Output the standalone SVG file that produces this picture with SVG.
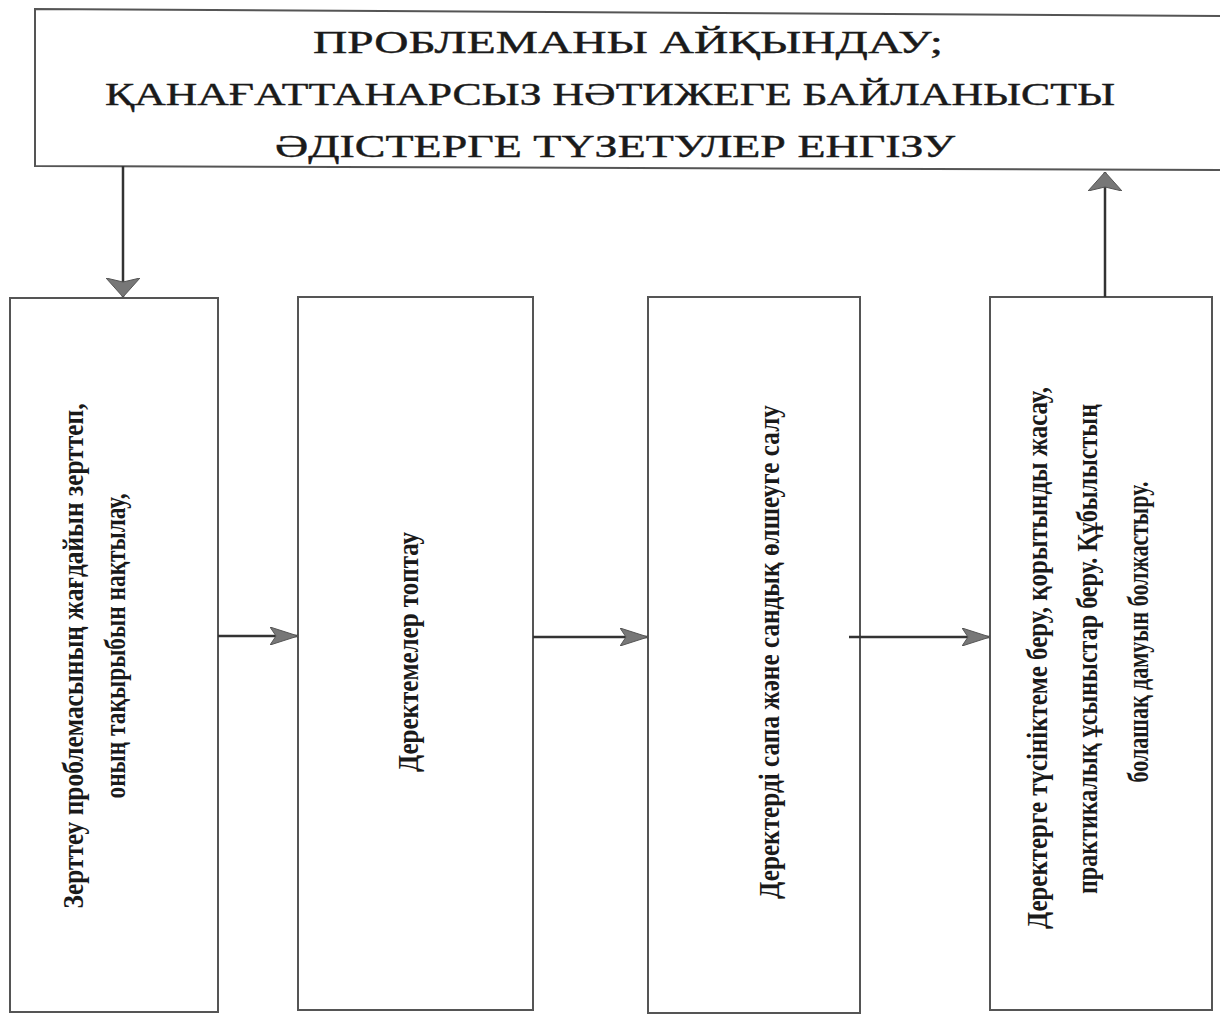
<svg xmlns="http://www.w3.org/2000/svg" width="1220" height="1017" viewBox="0 0 1220 1017">
<style>
.box{fill:#fff;stroke:#555;stroke-width:2}
.t{font-family:"Liberation Serif","Times New Roman",serif;fill:#1a1a1a}
.top{font-size:31px;stroke:#1a1a1a;stroke-width:0.4}
.v{font-size:29px;font-weight:bold}
.ln{stroke:#333;stroke-width:2.5;fill:none}
</style>
<defs>
<marker id="ah" markerUnits="userSpaceOnUse" markerWidth="30" markerHeight="18" refX="28" refY="9" orient="auto">
<path d="M0,0 L28,9 L0,18 L6,9 Z" fill="#777" stroke="#555" stroke-width="1"/>
</marker>
<marker id="av" markerUnits="userSpaceOnUse" markerWidth="20" markerHeight="34" refX="19" refY="17" orient="auto">
<path d="M0,0 L19,17 L0,34 L4,17 Z" fill="#777" stroke="#555" stroke-width="1"/>
</marker>
</defs>
<rect width="1220" height="1017" fill="#fff"/>
<g id="top">
<path class="box" d="M1222,16 L35,9 L35,166 L1222,170"/>
<text class="t top" x="628" y="53" text-anchor="middle" textLength="630" lengthAdjust="spacingAndGlyphs">ПРОБЛЕМАНЫ АЙҚЫНДАУ;</text>
<text class="t top" x="610" y="105" text-anchor="middle" textLength="1010" lengthAdjust="spacingAndGlyphs">ҚАНАҒАТТАНАРСЫЗ НӘТИЖЕГЕ БАЙЛАНЫСТЫ</text>
<text class="t top" x="615" y="157" text-anchor="middle" textLength="680" lengthAdjust="spacingAndGlyphs">ӘДІСТЕРГЕ ТҮЗЕТУЛЕР ЕНГІЗУ</text>
</g>
<g id="step1">
<rect class="box" x="10" y="298" width="208" height="714"/>
<text class="t v" transform="translate(83,656) rotate(-90)" text-anchor="middle" textLength="505" lengthAdjust="spacingAndGlyphs">Зерттеу проблемасының жағдайын зерттеп,</text>
<text class="t v" transform="translate(125,646) rotate(-90)" text-anchor="middle" textLength="305" lengthAdjust="spacingAndGlyphs">оның тақырыбын нақтылау,</text>
</g>
<g id="step2">
<rect class="box" x="298" y="297" width="235" height="713"/>
<text class="t v" transform="translate(418,652) rotate(-90)" text-anchor="middle" textLength="240" lengthAdjust="spacingAndGlyphs">Деректемелер топтау</text>
</g>
<g id="step3">
<rect class="box" x="648" y="297" width="212" height="716"/>
<text class="t v" transform="translate(779,652) rotate(-90)" text-anchor="middle" textLength="494" lengthAdjust="spacingAndGlyphs">Деректерді сапа және сандық өлшеуге салу</text>
</g>
<g id="step4">
<rect class="box" x="990" y="297" width="222" height="713"/>
<text class="t v" transform="translate(1047,658) rotate(-90)" text-anchor="middle" textLength="542" lengthAdjust="spacingAndGlyphs">Деректерге түсініктеме беру, қорытынды жасау,</text>
<text class="t v" transform="translate(1097,649) rotate(-90)" text-anchor="middle" textLength="490" lengthAdjust="spacingAndGlyphs">практикалық ұсыныстар беру. Құбылыстың</text>
<text class="t v" transform="translate(1148,632) rotate(-90)" text-anchor="middle" textLength="301" lengthAdjust="spacingAndGlyphs">болашақ дамуын болжастыру.</text>
</g>
<g id="connectors">
<line class="ln" x1="123" y1="166" x2="123" y2="297" marker-end="url(#av)"/>
<line class="ln" x1="1105" y1="297" x2="1105" y2="172" marker-end="url(#av)"/>
<line class="ln" x1="218" y1="636" x2="298" y2="636" marker-end="url(#ah)"/>
<line class="ln" x1="533" y1="637" x2="648" y2="637" marker-end="url(#ah)"/>
<line class="ln" x1="849" y1="637" x2="990" y2="637" marker-end="url(#ah)"/>
</g>
</svg>
